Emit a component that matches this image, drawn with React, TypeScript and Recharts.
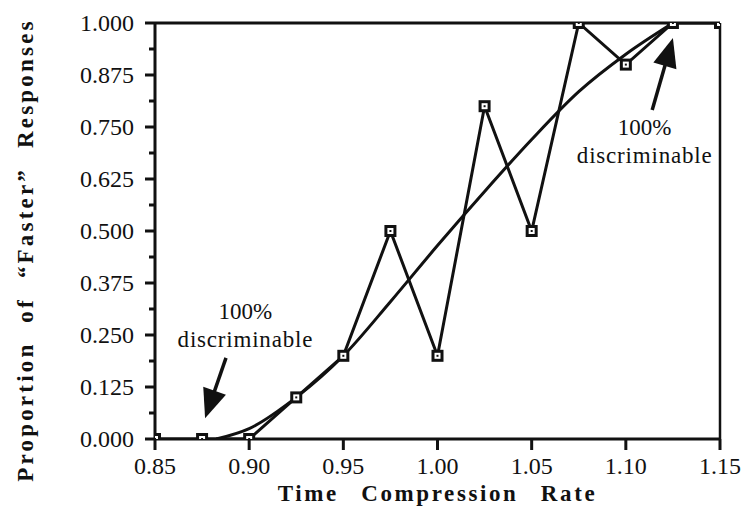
import { ComposedChart, Line, XAxis, YAxis, ReferenceLine, ReferenceDot, Label } from "recharts";

const rates = [0.85, 0.875, 0.9, 0.925, 0.95, 0.975, 1.0, 1.025, 1.05, 1.075, 1.1, 1.125, 1.15];
const observed = [0, 0, 0, 0.1, 0.2, 0.5, 0.2, 0.8, 0.5, 1.0, 0.9, 1.0, 1.0];
const fitRates = [0.8825, 0.9, 0.925, 0.95, 0.975, 1.0, 1.025, 1.05, 1.075, 1.1, 1.125];
const fitted = [0, 0.025, 0.1, 0.2, 0.33, 0.465, 0.595, 0.72, 0.835, 0.925, 1.0];
const xTicks = [0.85, 0.9, 0.95, 1.0, 1.05, 1.1, 1.15];
const yTicks = [0, 0.0625, 0.125, 0.1875, 0.25, 0.3125, 0.375, 0.4375, 0.5, 0.5625, 0.625, 0.6875, 0.75, 0.8125, 0.875, 0.9375, 1.0];
const yMajor = [0, 0.125, 0.25, 0.375, 0.5, 0.625, 0.75, 0.875, 1.0];

const obsData = rates.map((x, i) => ({ x, y: observed[i] }));
const fitData = fitRates.map((x, i) => ({ x, y: fitted[i] }));

const FONT = "Liberation Serif, Times New Roman, DejaVu Serif, serif";
const INK = "#111";

const SquareDot = (props: any) => {
  const { cx, cy } = props;
  if (cx == null || cy == null) return null;
  return (
    <g>
      <rect x={cx - 6} y={cy - 6} width={12} height={12} fill={INK} />
      <rect x={cx - 3} y={cy - 3} width={6} height={6} fill="#fff" />
      <rect x={cx - 1} y={cy - 1} width={2} height={2} fill={INK} />
    </g>
  );
};

const XTick = (props: any) => {
  const { x, y, payload } = props;
  return (
    <g>
      <line x1={x} y1={y} x2={x} y2={y + 11} stroke={INK} strokeWidth={3} />
      <text x={x} y={y + 35} textAnchor="middle" style={{ fontFamily: FONT, fontSize: 24 }} fill={INK}>
        {payload.value.toFixed(2)}
      </text>
    </g>
  );
};

const YTick = (props: any) => {
  const { x, y, payload } = props;
  const major = yMajor.includes(payload.value);
  return (
    <g>
      <line x1={x - (major ? 10 : 6)} y1={y} x2={x} y2={y} stroke={INK} strokeWidth={3} />
      {major && (
        <text x={x - 21} y={y + 8} textAnchor="end" style={{ fontFamily: FONT, fontSize: 24 }} fill={INK}>
          {payload.value.toFixed(3)}
        </text>
      )}
    </g>
  );
};

const Arrow = (props: any) => {
  const { x1, y1, x2, y2 } = props;
  const dx = x2 - x1;
  const dy = y2 - y1;
  const len = Math.sqrt(dx * dx + dy * dy);
  const ux = dx / len;
  const uy = dy / len;
  const head = 29;
  const half = 12;
  const bx = x2 - ux * head;
  const by = y2 - uy * head;
  return (
    <g>
      <line x1={x1} y1={y1} x2={bx + ux * 4} y2={by + uy * 4} stroke={INK} strokeWidth={3.5} />
      <polygon
        points={`${x2},${y2} ${bx - uy * half},${by + ux * half} ${bx + uy * half},${by - ux * half}`}
        fill={INK}
      />
    </g>
  );
};

const Note = (props: any) => {
  const { cx, cy } = props;
  return (
    <g style={{ fontFamily: FONT, fontSize: 23 }} fill={INK}>
      <text x={cx} y={cy} textAnchor="middle">100%</text>
      <text x={cx} y={cy + 28} textAnchor="middle" letterSpacing={0.8}>discriminable</text>
    </g>
  );
};

const YTitle = (props: any) => {
  const { viewBox } = props;
  const cx = viewBox.x + 28;
  const cy = viewBox.y + viewBox.height / 2 + 19;
  return (
    <text
      x={cx}
      y={cy}
      transform={`rotate(-90 ${cx} ${cy})`}
      textAnchor="middle"
      style={{ fontFamily: FONT, fontWeight: "bold", fontSize: 23, letterSpacing: 3.2, wordSpacing: 10 }}
      fill={INK}
    >
      Proportion of “Faster” Responses
    </text>
  );
};

const XTitle = (props: any) => {
  const { viewBox } = props;
  return (
    <text
      x={viewBox.x + viewBox.width / 2}
      y={viewBox.y + 62}
      textAnchor="middle"
      style={{ fontFamily: FONT, fontWeight: "bold", fontSize: 23, letterSpacing: 2.6, wordSpacing: 14 }}
      fill={INK}
    >
      Time Compression Rate
    </text>
  );
};

export default function App() {
  return (
    <div style={{ position: "absolute", left: 0, top: 0, background: "#fff" }}>
      <ComposedChart width={745} height={525} margin={{ top: 23, right: 25, bottom: 0, left: 5 }}>
        <XAxis
          type="number"
          dataKey="x"
          domain={[0.85, 1.15]}
          ticks={xTicks}
          interval={0}
          tick={<XTick />}
          tickSize={0}
          tickMargin={0}
          tickLine={false}
          axisLine={{ stroke: INK, strokeWidth: 3 }}
          height={86}
          allowDataOverflow
        >
          <Label content={<XTitle />} />
        </XAxis>
        <YAxis
          type="number"
          domain={[0, 1]}
          ticks={yTicks}
          interval={0}
          tick={<YTick />}
          tickSize={0}
          tickMargin={0}
          tickLine={false}
          axisLine={{ stroke: INK, strokeWidth: 3 }}
          width={150}
          allowDataOverflow
        >
          <Label content={<YTitle />} />
        </YAxis>
        <ReferenceLine y={1} stroke={INK} strokeWidth={3} />
        <ReferenceLine x={1.15} stroke={INK} strokeWidth={2.5} />
        <Line
          data={fitData}
          dataKey="y"
          type="monotone"
          stroke={INK}
          strokeWidth={3}
          dot={false}
          isAnimationActive={false}
        />
        <Line
          data={obsData}
          dataKey="y"
          type="linear"
          stroke={INK}
          strokeWidth={3}
          dot={<SquareDot />}
          isAnimationActive={false}
        />
        <ReferenceLine
          segment={[{ x: 0.8877, y: 0.195 }, { x: 0.8766, y: 0.05 }]}
          shape={<Arrow />}
        />
        <ReferenceLine
          segment={[{ x: 1.114, y: 0.791 }, { x: 1.125, y: 0.964 }]}
          shape={<Arrow />}
        />
        <ReferenceDot x={0.898} y={0.288} r={0} shape={<Note />} />
        <ReferenceDot x={1.11} y={0.731} r={0} shape={<Note />} />
      </ComposedChart>
    </div>
  );
}
